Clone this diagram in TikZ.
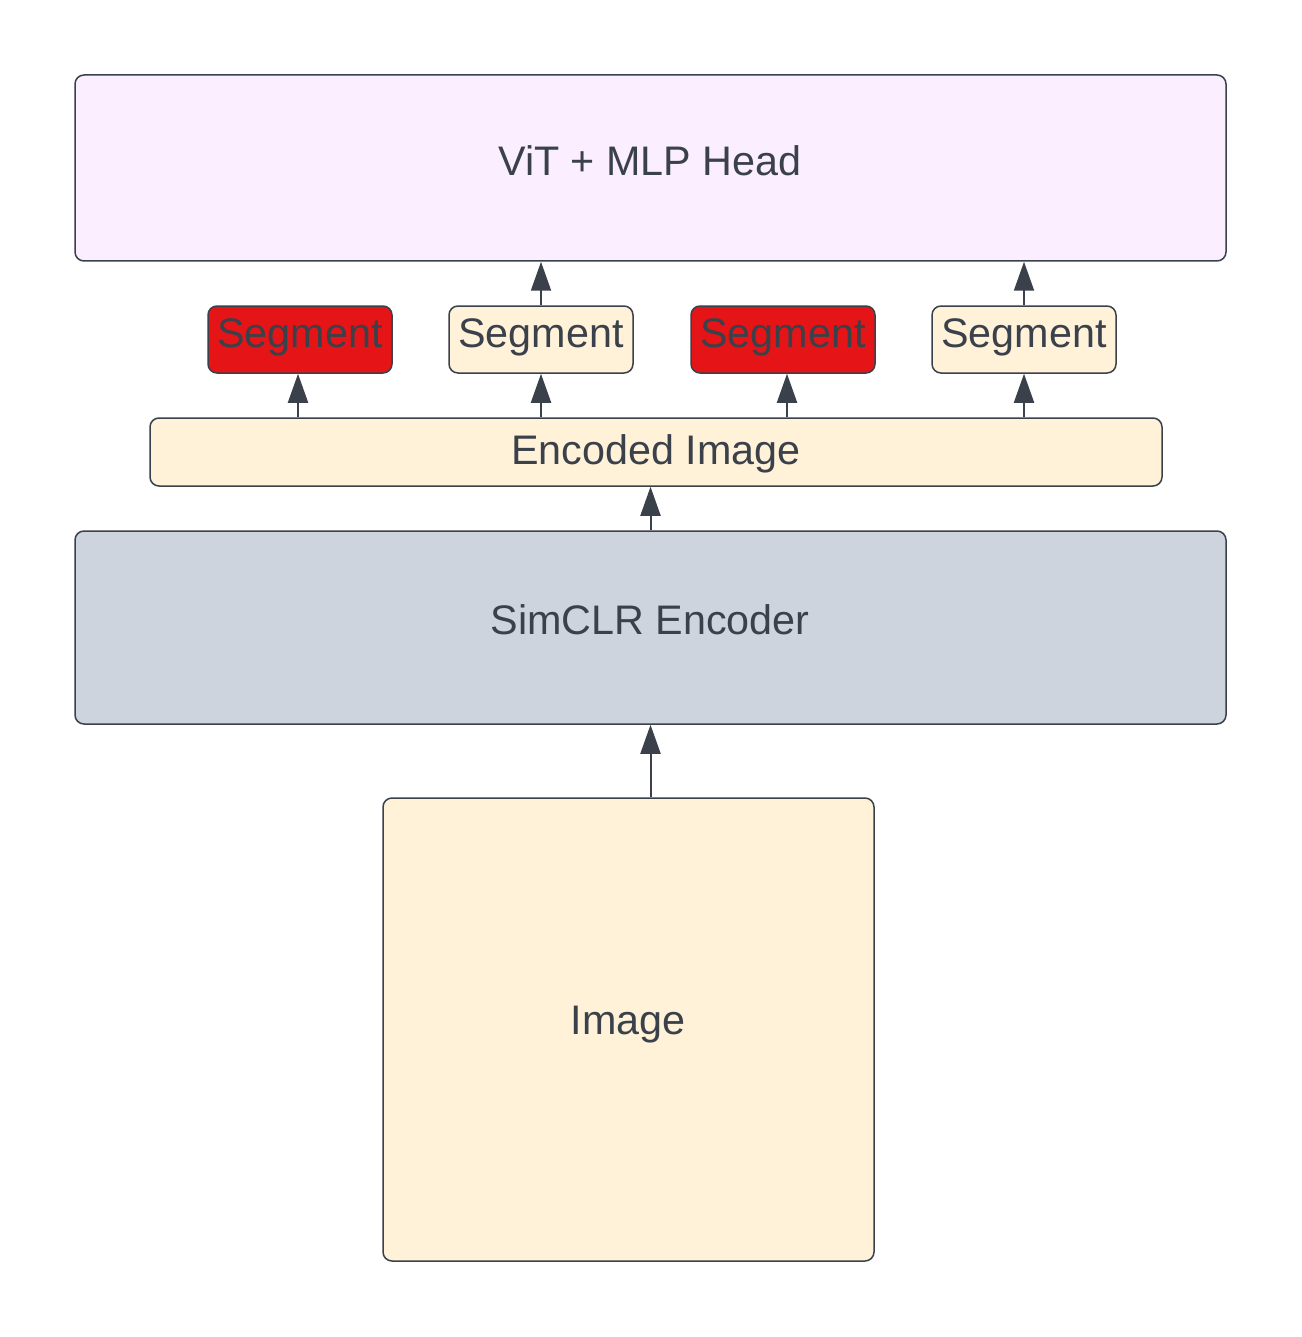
\documentclass[tikz,border=0pt]{standalone}
\usepackage{fontspec}
\setmainfont{Liberation Sans}
\usetikzlibrary{arrows.meta}
\definecolor{strokec}{HTML}{3A414A}
\definecolor{lavender}{HTML}{FBEEFF}
\definecolor{cream}{HTML}{FFF2D9}
\definecolor{grayblue}{HTML}{CED4DD}
\definecolor{segred}{HTML}{E51416}
\tikzset{
  box/.style={draw=strokec, line width=1.5pt, rounded corners=9pt, inner sep=0pt},
  lbl/.style={text=strokec, inner sep=0pt, font=\fontsize{41.3}{48}\selectfont},
  conn/.style={draw=strokec, line width=2pt, -{Triangle[length=29pt,width=20pt]}}
}
\begin{document}
\begin{tikzpicture}[x=1pt,y=-1pt]
\useasboundingbox (0,0) rectangle (1301,1337);
\node[box, fill=lavender, minimum width=1151pt, minimum height=186pt] (vit) at (650.5,168) {};
\node[lbl] (vitlabel) at (650,161) {ViT + MLP Head};
\node[box, fill=segred, minimum width=184pt, minimum height=67pt] (s1) at (300,339.5) {};
\node[box, fill=cream, minimum width=184pt, minimum height=67pt] (s2) at (541,339.5) {};
\node[box, fill=segred, minimum width=184pt, minimum height=67pt] (s3) at (783,339.5) {};
\node[box, fill=cream, minimum width=184pt, minimum height=67pt] (s4) at (1024,339.5) {};
\foreach \s in {s1,s2,s3,s4}{
  \node[lbl] at ([yshift=2pt]\s.center) {Segment};
}
\node[box, fill=cream, minimum width=1012pt, minimum height=68pt] (enc) at (656,452) {};
\node[lbl] at (656,454) {Encoded Image};
\node[box, fill=grayblue, minimum width=1151pt, minimum height=193pt] (sim) at (650.5,627.5) {};
\node[lbl] at (650,620) {SimCLR Encoder};
\node[box, fill=cream, minimum width=491pt, minimum height=463pt] (img) at (628.5,1029.5) {};
\node[lbl] at (628,1025) {Image};
% connectors
\draw[conn] (img.north -| sim.south) -- (sim.south);
\draw[conn] (sim.north) -- (sim.north |- enc.south);
\draw[conn] (enc.north -| 298,0) coordinate (e1) -- (e1 |- s1.south);
\draw[conn] (enc.north -| s2.south) -- (s2.south);
\draw[conn] (enc.north -| 787,0) coordinate (e3) -- (e3 |- s3.south);
\draw[conn] (enc.north -| s4.south) -- (s4.south);
\draw[conn] (s2.north) -- (s2.north |- vit.south);
\draw[conn] (s4.north) -- (s4.north |- vit.south);
\end{tikzpicture}
\end{document}
